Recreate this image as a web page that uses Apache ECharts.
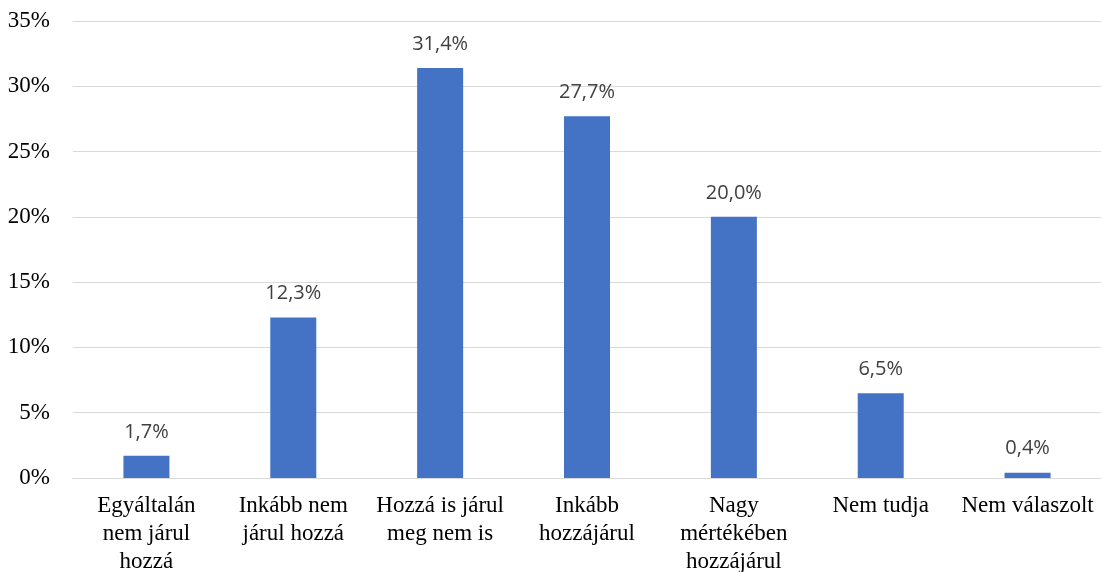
<!DOCTYPE html>
<html>
<head>
<meta charset="utf-8">
<script src="https://cdn.jsdelivr.net/npm/echarts@6/dist/echarts.min.js"></script>
<style>
  html, body { margin: 0; padding: 0; background: #fff; }
  #chart { width: 1101px; height: 572px; }
</style>
</head>
<body>
<div id="chart"></div>
<script>
// kategóriák (sortörésekkel, ahogy az eredetin)
const categories = [
  'Egyáltalán\nnem járul\nhozzá',
  'Inkább nem\njárul hozzá',
  'Hozzá is járul\nmeg nem is',
  'Inkább\nhozzájárul',
  'Nagy\nmértékében\nhozzájárul',
  'Nem tudja',
  'Nem válaszolt'
];
const values = [1.7, 12.3, 31.4, 27.7, 20.0, 6.5, 0.4];
const yTicks = [0, 5, 10, 15, 20, 25, 30, 35];

const chart = echarts.init(document.getElementById('chart'));

const option = {
  animation: false,
  grid: {
    left: 73,
    right: 0,
    top: 21,
    bottom: 94,
    outerBoundsMode: 'none'
  },
  xAxis: {
    type: 'category',
    data: categories,
    axisTick: { show: false },
    axisLine: { show: true, lineStyle: { color: '#d9d9d9', width: 1 } },
    axisLabel: {
      interval: 0,
      margin: 14,
      color: '#000',
      fontFamily: '"Liberation Serif", serif',
      fontSize: 23,
      lineHeight: 28
    }
  },
  yAxis: {
    type: 'value',
    min: yTicks[0],
    max: yTicks[yTicks.length - 1],
    interval: 5,
    axisLine: { show: false },
    axisTick: { show: false },
    splitLine: { lineStyle: { color: '#d9d9d9', width: 1 } },
    axisLabel: {
      margin: 23,
      color: '#000',
      fontFamily: '"Liberation Serif", serif',
      fontSize: 23,
      formatter: v => v + '%'
    }
  },
  series: [
    {
      type: 'bar',
      data: values,
      barWidth: 46,
      itemStyle: { color: '#4472C4' },
      label: {
        show: true,
        position: 'top',
        distance: 14,
        color: '#404040',
        fontFamily: '"Open Sans", sans-serif',
        fontSize: 20,
        formatter: p => p.value.toFixed(1).replace('.', ',') + '%'
      }
    }
  ]
};

chart.setOption(option);
window.addEventListener('resize', () => {
  chart.resize();
});
</script>
</body>
</html>
